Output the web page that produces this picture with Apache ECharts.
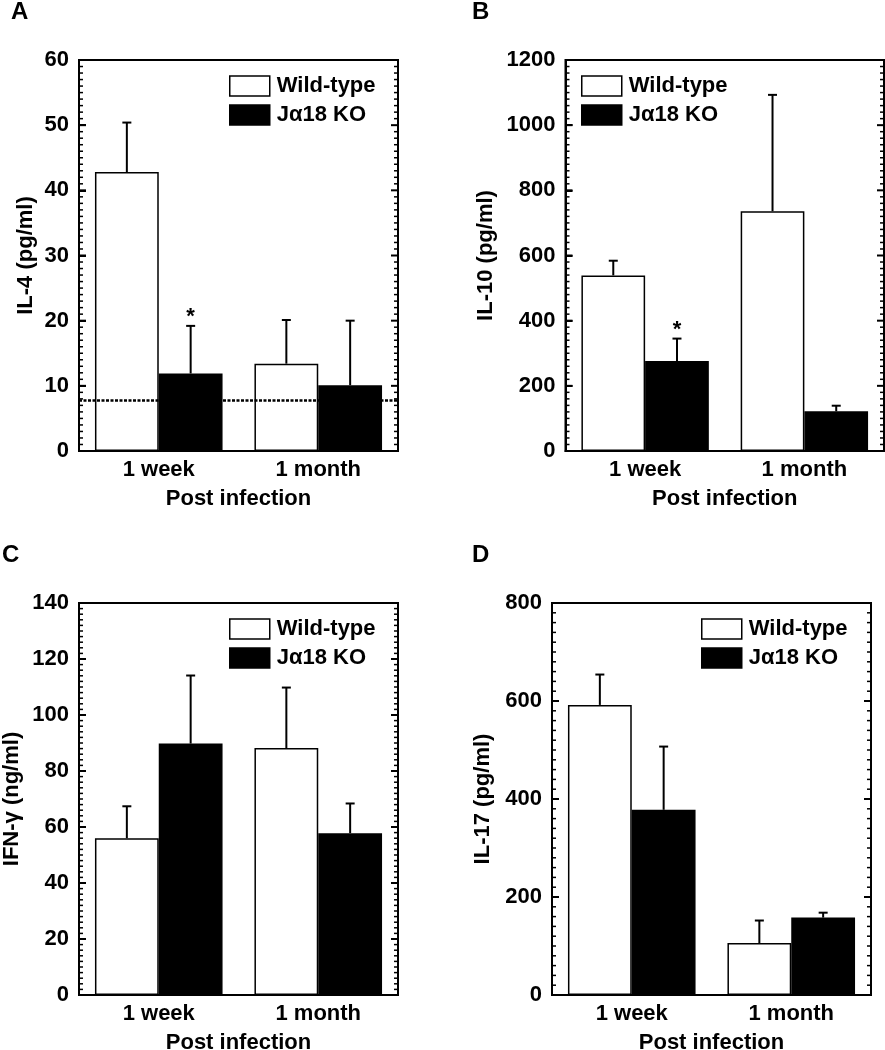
<!DOCTYPE html>
<html>
<head>
<meta charset="utf-8">
<script src="https://cdn.jsdelivr.net/npm/echarts@6/dist/echarts.min.js"></script>
<style>
html,body{margin:0;padding:0;background:#fff;}
#chart{width:885px;height:1050px;}
</style>
</head>
<body>
<div id="chart"></div>
<script>
// ---------- data ----------
const categories = ['1 week', '1 month'];
const seriesNames = ['Wild-type', 'J\u03b118 KO'];

// Panel A: IL-4 (pg/ml)
const il4WT = [42.8, 13.4];
const il4WTErr = [7.6, 6.7];
const il4KO = [11.9, 10.1];
const il4KOErr = [7.3, 9.9];
const il4KOSig = ['*', ''];
const il4Limit = 7.8;

// Panel B: IL-10 (pg/ml)
const il10WT = [539, 736];
const il10WTErr = [45, 357];
const il10KO = [276, 122];
const il10KOErr = [69, 17];
const il10KOSig = ['*', ''];

// Panel C: IFN-gamma (ng/ml)
const ifngWT = [56.0, 88.2];
const ifngWTErr = [11.4, 21.6];
const ifngKO = [89.8, 57.8];
const ifngKOErr = [24.3, 10.6];

// Panel D: IL-17 (pg/ml)
const il17WT = [592, 106];
const il17WTErr = [62, 46];
const il17KO = [378, 158];
const il17KOErr = [129, 10];

const panelLetters = ['A', 'B', 'C', 'D'];
const yNames = ['IL-4 (pg/ml)', 'IL-10 (pg/ml)', 'IFN-\u03b3 (ng/ml)', 'IL-17 (pg/ml)'];
const yMax = [60, 1200, 140, 800];
const yInterval = [10, 200, 20, 200];
const minorPerMajor = 10;
const xName = 'Post infection';

// ---------- layout ----------
const FONT = 'Liberation Sans, Arial, Helvetica, sans-serif';
const grids = [
  {left: 79, top: 60, width: 319, height: 391},
  {left: 565.5, top: 60, width: 318.5, height: 391},
  {left: 79, top: 603, width: 319, height: 392},
  {left: 552, top: 603, width: 319, height: 392}
];
const yNameGap = [42, 69, 56, 58];
const legendPos = [
  {left: 229, top: 75},
  {left: 581, top: 75},
  {left: 229, top: 618},
  {left: 701, top: 618}
];
const letterPos = [
  {left: 11, top: 0},
  {left: 472, top: 0},
  {left: 2, top: 543},
  {left: 472, top: 543}
];

const panels = [
  {wt: il4WT, wtE: il4WTErr, ko: il4KO, koE: il4KOErr, koSig: il4KOSig},
  {wt: il10WT, wtE: il10WTErr, ko: il10KO, koE: il10KOErr, koSig: il10KOSig},
  {wt: ifngWT, wtE: ifngWTErr, ko: ifngKO, koE: ifngKOErr, koSig: ['', '']},
  {wt: il17WT, wtE: il17WTErr, ko: il17KO, koE: il17KOErr, koSig: ['', '']}
];

const labelStyle = {color: '#000', fontWeight: 'bold', fontSize: 22, fontFamily: FONT};

function errRender(offset) {
  return function (params, api) {
    const x = api.value(0);
    const mean = api.value(1);
    const err = api.value(2);
    const sig = api.value(3);
    const band = api.size([1, 0])[0];
    const cx = api.coord([x, 0])[0] + offset * band;
    const yBase = api.coord([x, mean])[1];
    const yTop = api.coord([x, mean + err])[1];
    const children = [
      {type: 'line', shape: {x1: cx, y1: yBase, x2: cx, y2: yTop},
       style: {stroke: '#000', lineWidth: 2}},
      {type: 'line', shape: {x1: cx - 4.5, y1: yTop, x2: cx + 4.5, y2: yTop},
       style: {stroke: '#000', lineWidth: 2}}
    ];
    if (sig && sig !== '-') {
      children.push({type: 'text', style: {text: sig, x: cx, y: yTop + 2,
        align: 'center', verticalAlign: 'bottom',
        font: 'bold 22px ' + FONT, fill: '#000'}});
    }
    return {type: 'group', children: children};
  };
}

// inward ticks on both vertical frame sides, placed by the axes' scales
function tickRender(params, api) {
  const v = api.value(1);
  const isMajor = api.value(2) === 1;
  const band = api.size([1, 0])[0];
  const p0 = api.coord([0, v]);
  const p1 = api.coord([1, v]);
  const xl = p0[0] - band / 2;
  const xr = p1[0] + band / 2;
  const y = p0[1];
  const len = isMajor ? 7 : 4;
  const lw = isMajor ? 2 : 1.5;
  return {type: 'group', children: [
    {type: 'line', shape: {x1: xl, y1: y, x2: xl + len, y2: y},
     style: {stroke: '#000', lineWidth: lw}},
    {type: 'line', shape: {x1: xr - len, y1: y, x2: xr, y2: y},
     style: {stroke: '#000', lineWidth: lw}}
  ]};
}

const option = {
  animation: false,
  backgroundColor: '#fff',
  title: panelLetters.map((t, i) => ({
    text: t, left: letterPos[i].left, top: letterPos[i].top, padding: 0,
    textStyle: {color: '#000', fontWeight: 'bold', fontSize: 24, fontFamily: FONT}
  })),
  legend: legendPos.map((p) => ({
    data: seriesNames, orient: 'vertical', left: p.left, top: p.top,
    itemWidth: 40, itemHeight: 20, itemGap: 7, padding: 0, selectedMode: false,
    icon: 'rect',
    itemStyle: {borderColor: '#000', borderWidth: 1.5},
    textStyle: {color: '#000', fontWeight: 'bold', fontSize: 22, fontFamily: FONT, padding: [0, 0, 0, 2]}
  })),
  grid: grids.map((g) => Object.assign({show: true, borderColor: '#000', borderWidth: 2,
    containLabel: false, outerBoundsMode: 'none'}, g)),
  xAxis: grids.map((g, i) => ({
    type: 'category', gridIndex: i, data: categories,
    axisTick: {show: false},
    axisLine: {show: true, lineStyle: {color: '#000', width: 2}},
    axisLabel: Object.assign({margin: 8}, labelStyle),
    name: xName, nameLocation: 'middle', nameGap: 37,
    nameTextStyle: Object.assign({}, labelStyle)
  })),
  yAxis: grids.map((g, i) => ({
    type: 'value', gridIndex: i, min: 0, max: yMax[i], interval: yInterval[i],
    position: 'left',
    splitLine: {show: false},
    axisLine: {show: true, lineStyle: {color: '#000', width: 2}},
    axisTick: {show: true, inside: true, length: 7, lineStyle: {color: '#000', width: 2}},
    axisLabel: Object.assign({margin: 10, formatter: (v) => String(v)}, labelStyle),
    name: yNames[i], nameLocation: 'middle', nameGap: yNameGap[i], nameRotate: 90,
    nameTextStyle: Object.assign({}, labelStyle)
  })),
  series: []
};

panels.forEach((p, i) => {
  option.series.push({
    name: seriesNames[0], type: 'bar', xAxisIndex: i, yAxisIndex: i,
    data: p.wt, barGap: '0%', barCategoryGap: '20%',
    itemStyle: {color: '#fff', borderColor: '#000', borderWidth: 1.5}, z: 2
  });
  option.series.push({
    name: seriesNames[1], type: 'bar', xAxisIndex: i, yAxisIndex: i,
    data: p.ko, barGap: '0%', barCategoryGap: '20%',
    itemStyle: {color: '#000', borderColor: '#000', borderWidth: 1.5}, z: 2
  });
  option.series.push({
    name: 'err-wt-' + i, type: 'custom', xAxisIndex: i, yAxisIndex: i, z: 4, silent: true,
    renderItem: errRender(-0.2), encode: {x: 0, y: 1},
    data: categories.map((c, k) => [k, p.wt[k], p.wtE[k], '-'])
  });
  option.series.push({
    name: 'err-ko-' + i, type: 'custom', xAxisIndex: i, yAxisIndex: i, z: 4, silent: true,
    renderItem: errRender(0.2), encode: {x: 0, y: 1},
    data: categories.map((c, k) => [k, p.ko[k], p.koE[k], p.koSig[k] || '-'])
  });
  // axis tick marks (major + minor) for this panel
  const step = yInterval[i] / minorPerMajor;
  const nTicks = Math.round(yMax[i] / step);
  const tickData = [];
  for (let k = 1; k < nTicks; k++) {
    tickData.push([0, k * step, k % minorPerMajor === 0 ? 1 : 0]);
  }
  option.series.push({
    name: 'ticks-' + i, type: 'custom', xAxisIndex: i, yAxisIndex: i, z: 6, silent: true,
    clip: false, renderItem: tickRender, encode: {x: 0, y: 1}, data: tickData
  });
});

// detection limit line in panel A
option.series.push({
  name: 'limit', type: 'line', xAxisIndex: 0, yAxisIndex: 0, data: [], z: 5,
  markLine: {
    silent: true, symbol: ['none', 'none'], label: {show: false},
    lineStyle: {color: '#000', width: 2.5, type: [3, 1.5]},
    data: [{yAxis: il4Limit}]
  }
});

const chart = echarts.init(document.getElementById('chart'), null, {renderer: 'canvas'});
chart.setOption(option);
</script>
</body>
</html>
